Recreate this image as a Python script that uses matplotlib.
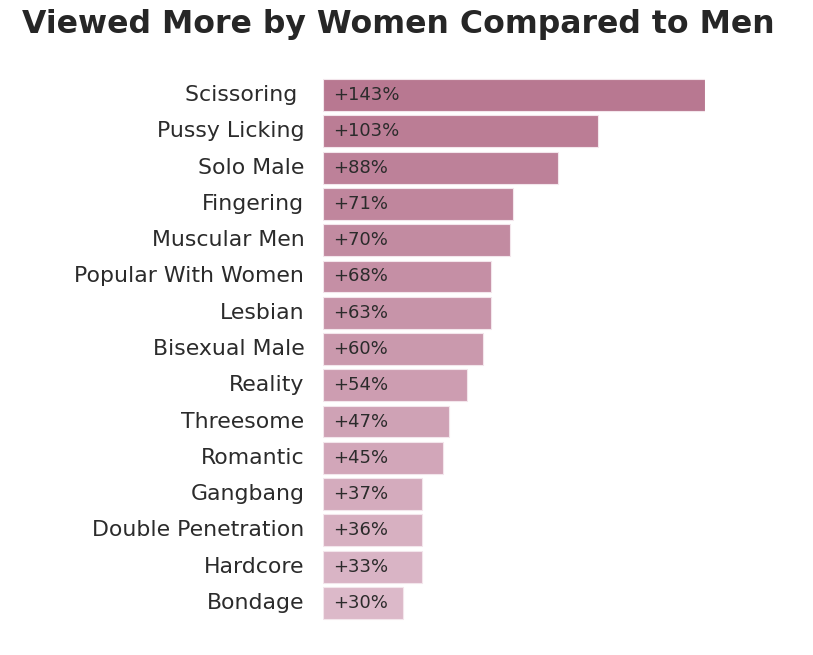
import matplotlib.pyplot as plt
import numpy as np
from matplotlib.colors import to_rgb

categories = ['Scissoring ', 'Pussy Licking', 'Solo Male', 'Fingering', 'Muscular Men',
              'Popular With Women', 'Lesbian', 'Bisexual Male', 'Reality', 'Threesome',
              'Romantic', 'Gangbang', 'Double Penetration', 'Hardcore', 'Bondage']
# bar lengths as drawn in the picture (some differ from the printed labels)
bar_values = [143, 103, 88, 71, 70, 63, 63, 60, 54, 47, 45, 37, 37, 37, 30]
value_labels = ['+143%', '+103%', '+88%', '+71%', '+70%', '+68%', '+63%', '+60%',
                '+54%', '+47%', '+45%', '+37%', '+36%', '+33%', '+30%']

W, H = 813, 655
fig = plt.figure(figsize=(W / 100, H / 100), dpi=100)
ax = fig.add_axes([323 / W, 1 - 621 / H, 382 / W, 544 / H])

# colour fades from dark mauve to light pink down the list
c_top = np.array(to_rgb('#b87891'))
c_bot = np.array(to_rgb('#dcb9c9'))
n = len(categories)
colors = [c_top + (c_bot - c_top) * i / (n - 1) for i in range(n)]

y = np.arange(n)
ax.barh(y, bar_values, height=0.88, color=colors, edgecolor='#f3e6ec', linewidth=0.8)
ax.set_xlim(0, 143)
ax.set_ylim(n - 0.5, -0.5)

txt = '#2b2b2b'
for i, (lab, val) in enumerate(zip(categories, value_labels)):
    ax.text(3.7, i, val, va='center', ha='left', fontsize=13, color=txt)
    ax.text(-7, i, lab, va='center', ha='right', fontsize=15.8, color=txt)

ax.axis('off')

fig.text(22 / W, 1 - 24 / H, 'Viewed More by Women Compared to Men', fontsize=22.7,
         fontweight='heavy', color='#262626', va='center', ha='left')

fig.savefig('out.png', dpi=100, facecolor='white')
